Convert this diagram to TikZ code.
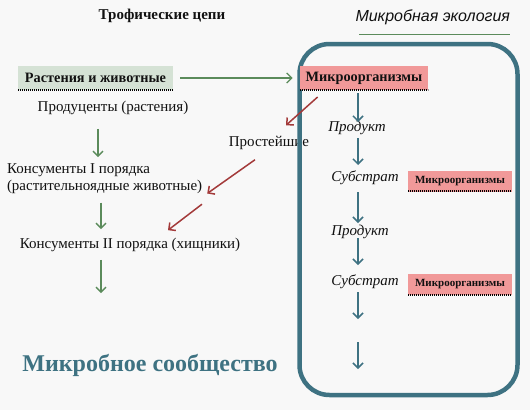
\documentclass[tikz,border=0pt]{standalone}
\usepackage{fontspec}
\setmainfont{Liberation Serif}
\newfontfamily\ecosans{Liberation Sans}
\usetikzlibrary{arrows.meta,calc}
\definecolor{EcoPaper}{HTML}{F8F8F8}
\definecolor{EcoFrame}{HTML}{3E7282}
\definecolor{EcoGreen}{HTML}{5B8B5B}
\definecolor{EcoRed}{HTML}{A33A3A}
\definecolor{EcoPink}{HTML}{F19999}
\definecolor{EcoMint}{HTML}{D5E2D5}
\definecolor{EcoInk}{HTML}{111111}
\tikzset{
    eco/diagram/.style={
        x=1pt, y=-1pt,
        font=\fontsize{15}{17}\selectfont,
        text=EcoInk,
        line cap=butt,
        every node/.style={inner sep=0pt, outer sep=0pt}
    },
    eco/frame/.style={draw=EcoFrame, line width=4.5pt, rounded corners=30pt},
    eco/tag/.style={
        fill=#1, minimum height=24pt, inner xsep=6pt,
        font=\fontsize{14.3}{16}\selectfont\bfseries,
        path picture={
            \draw[black, line width=3pt, dash pattern=on 1pt off 1pt]
                (path picture bounding box.south west) --
                (path picture bounding box.south east);
        }
    },
    eco/smalltag/.style={
        eco/tag=EcoPink, minimum width=104pt, minimum height=21pt,
        font=\fontsize{11}{12}\selectfont\bfseries
    },
    eco/step/.style={font=\fontsize{15}{17}\selectfont\itshape},
    eco/grow/.style={
        draw=EcoGreen, line width=1.3pt,
        -{Straight Barb[length=5pt, width=10pt, line width=1.3pt]}
    },
    eco/flow/.style={
        draw=EcoFrame, line width=1.5pt,
        -{Straight Barb[length=5pt, width=10pt, line width=1.5pt]}
    },
    eco/feed/.style={
        draw=EcoRed, line width=1.5pt,
        -{Straight Barb[length=5pt, width=10pt, line width=1.5pt]}
    }
}

\begin{document}
\begin{tikzpicture}[eco/diagram]
    \fill[EcoPaper] (0,0) rectangle (530,410);
    \useasboundingbox (0,0) rectangle (530,410);

    \node[font=\fontsize{15}{17}\selectfont\bfseries] (title) at (162,16) {Трофические цепи};
    \node[anchor=east, font=\fontsize{16}{18}\selectfont\ecosans\itshape] (topic) at (510,17)
        {Микробная экология};
    \draw[draw=EcoGreen, line width=1pt] (359,34) -- (topic.east |- 0,34);

    \node (prost) at (269,143) {Простейшие};
    \draw[eco/frame] (299.5,44) rectangle (517.5,395);

    \node[eco/tag=EcoMint, minimum width=155pt] (plants) at (95.5,78) {Растения и животные};
    \node[eco/tag=EcoPink, minimum width=128pt] (micro) at (364,78) {Микроорганизмы};
    \draw[eco/grow, shorten <=7pt, shorten >=7pt] (plants.east) -- (micro.west);

    \node (prod) at (113,108) {Продуценты (растения)};
    \node[anchor=west, align=left] (kons1) at (7,178.5)
        {Консументы I порядка\\(растительноядные животные)};
    \node (kons2) at (130,245) {Консументы II порядка (хищники)};
    \node[font=\fontsize{24}{28}\selectfont\bfseries, text=EcoFrame] (community) at (150,365)
        {Микробное сообщество};

    \draw[eco/grow] ([xshift=-15pt, yshift=-14pt]prod.south) -- ([xshift=-15pt]prod.south |- 0,157);
    \draw[eco/grow] (kons1.south -| 101,0) ++(0,9) -- (101,229);
    \draw[eco/grow] ([yshift=-8pt]kons2.south -| 101,0) -- (101,293);

    \draw[eco/feed] ([xshift=18pt, yshift=-7pt]micro.south west) -- ([xshift=17pt, yshift=11pt]prost.north);
    \draw[eco/feed] ([xshift=-14pt, yshift=-10pt]prost.south) -- ([xshift=5pt]kons1.south east);
    \draw[eco/feed] ([xshift=72pt, yshift=34pt]kons2.north) -- ([xshift=38pt, yshift=8pt]kons2.north);

    \node[eco/step] (prod1) at (357,128) {Продукт};
    \node[eco/step] (sub1) at (365,178) {Субстрат};
    \node[eco/step] (prod2) at (360,232) {Продукт};
    \node[eco/step] (sub2) at (365,282) {Субстрат};
    \node[eco/smalltag] (micro1) at (460,181) {Микроорганизмы};
    \node[eco/smalltag] (micro2) at (460,284.5) {Микроорганизмы};

    \coordinate (tail1) at (358,319);
    \coordinate (tail2) at (358,342);
    \coordinate (tail3) at (358,369);
    \draw[eco/flow] (micro.south -| 358,0) ++(0,3) -- (358,122);
    \draw[eco/flow] (358,138) -- (358,165);
    \draw[eco/flow] (358,192) -- (358,223);
    \draw[eco/flow] (358,238) -- (358,265);
    \draw[eco/flow] (358,292) -- (tail1);
    \draw[eco/flow] (tail2) -- (tail3);
\end{tikzpicture}
\end{document}
